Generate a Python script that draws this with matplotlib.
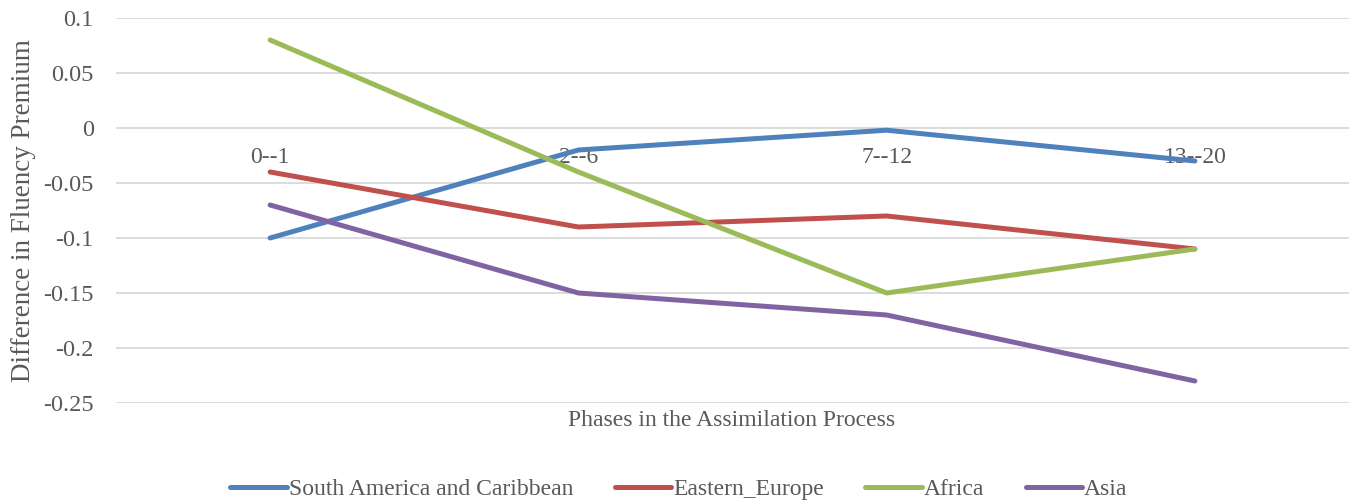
import matplotlib.pyplot as plt

plt.rcParams["font.family"] = ["Liberation Serif", "DejaVu Serif"]

phases = ["0--1", "2--6", "7--12", "13--20"]
south_america = [-0.10, -0.02, -0.002, -0.03]
eastern_europe = [-0.04, -0.09, -0.08, -0.11]
africa = [0.08, -0.04, -0.15, -0.11]
asia = [-0.07, -0.15, -0.17, -0.23]

series = [
    ("South America and Caribbean", south_america, "#4F81BD"),
    ("Eastern_Europe", eastern_europe, "#C0504D"),
    ("Africa", africa, "#9BBB59"),
    ("Asia", asia, "#8064A2"),
]

txt = "#595959"

fig = plt.figure(figsize=(13.55, 5.01), dpi=100)
ax = fig.add_axes([116 / 1355, 1 - 403 / 501, (1349 - 116) / 1355, (403 - 18) / 501])

x = list(range(len(phases)))
for name, vals, col in series:
    ax.plot(x, vals, color=col, linewidth=3.6, label=name, zorder=3,
            solid_capstyle="round")

ax.set_xlim(-0.5, len(phases) - 0.5)
ax.set_ylim(-0.25, 0.1)
ax.set_yticks([0.1, 0.05, 0, -0.05, -0.1, -0.15, -0.2, -0.25])
ax.set_yticklabels(["0.1", "0.05", "0", "-0.05", "-0.1", "-0.15", "-0.2", "-0.25"])
ax.grid(axis="y", color="#D9D9D9", linewidth=1.3, zorder=0)
ax.tick_params(axis="y", length=0, labelsize=17.5, labelcolor=txt, pad=16)
ax.set_xticks([])
for s in ax.spines.values():
    s.set_visible(False)

# category labels sit just below the zero line (axis crosses at 0)
for i, p in enumerate(phases):
    ax.annotate(p, (i, 0), xytext=(0, -14), textcoords="offset points",
                ha="center", va="top", fontsize=17, color=txt, zorder=2)

ax.set_ylabel("Difference in Fluency Premium", fontsize=19.5, color=txt)
ax.yaxis.set_label_coords(-(116 - 36) / 1233, 0.5)
fig.text(732 / 1355, 1 - 421 / 501, "Phases in the Assimilation Process",
         ha="center", va="center", fontsize=17, color=txt)

leg = fig.legend(loc="center", bbox_to_anchor=(679 / 1355, 1 - 489 / 501), ncol=4,
                 frameon=False, fontsize=17, handlelength=2.4, handletextpad=0.08,
                 columnspacing=1.75)
for t in leg.get_texts():
    t.set_color(txt)

plt.savefig("out.png", dpi=100)
